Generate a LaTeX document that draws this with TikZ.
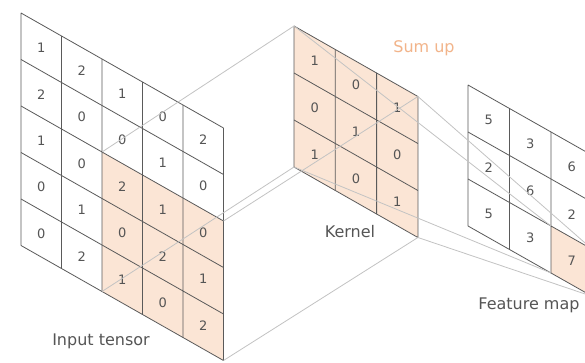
\documentclass[tikz,border=0pt]{standalone}
\usepackage{fontspec}
\setmainfont{DejaVu Sans}
\definecolor{hlfill}{RGB}{251,229,213}
\definecolor{gridgray}{RGB}{90,90,90}
\definecolor{projgray}{RGB}{195,195,195}
\definecolor{txtgray}{RGB}{85,85,85}
\definecolor{sumorange}{RGB}{242,180,138}
\begin{document}
\begin{tikzpicture}[x=1pt, y=-1pt,
  gridline/.style={draw=gridgray, line width=0.8pt},
  projline/.style={draw=projgray, line width=0.8pt},
  hlcell/.style={fill=hlfill},
  num/.style={text=txtgray, inner sep=0pt, font=\fontsize{13}{13}\selectfont},
  captxt/.style={text=txtgray, inner sep=0pt, font=\fontsize{16}{18}\selectfont}]
\clip (0,0) rectangle (585,363);
\fill[white] (0,0) rectangle (585,363);

% input tensor
\begin{scope}[shift={(21,13)}, x={(40.5pt,-23pt)}, y={(0pt,-46.5pt)}]
\coordinate (inA) at (2,2);
\coordinate (inB) at (5,2);
\coordinate (inC) at (5,5);
\coordinate (inD) at (2,5);
\fill[hlcell] (inA) -- (inB) -- (inC) -- (inD) -- cycle;
\foreach \k in {0,...,5}
  \draw[gridline] (\k,0) -- (\k,5) (0,\k) -- (5,\k);
\node[num] (in11) at (0.5,0.5) {1};
\node[num] (in12) at (1.5,0.5) {2};
\node[num] (in13) at (2.5,0.5) {1};
\node[num] (in14) at (3.5,0.5) {0};
\node[num] (in15) at (4.5,0.5) {2};
\node[num] (in21) at (0.5,1.5) {2};
\node[num] (in22) at (1.5,1.5) {0};
\node[num] (in23) at (2.5,1.5) {0};
\node[num] (in24) at (3.5,1.5) {1};
\node[num] (in25) at (4.5,1.5) {0};
\node[num] (in31) at (0.5,2.5) {1};
\node[num] (in32) at (1.5,2.5) {0};
\node[num] (in33) at (2.5,2.5) {2};
\node[num] (in34) at (3.5,2.5) {1};
\node[num] (in35) at (4.5,2.5) {0};
\node[num] (in41) at (0.5,3.5) {0};
\node[num] (in42) at (1.5,3.5) {1};
\node[num] (in43) at (2.5,3.5) {0};
\node[num] (in44) at (3.5,3.5) {2};
\node[num] (in45) at (4.5,3.5) {1};
\node[num] (in51) at (0.5,4.5) {0};
\node[num] (in52) at (1.5,4.5) {2};
\node[num] (in53) at (2.5,4.5) {1};
\node[num] (in54) at (3.5,4.5) {0};
\node[num] (in55) at (4.5,4.5) {2};
\end{scope}

% kernel
\begin{scope}[shift={(294,26)}, x={(41.3pt,-23.5pt)}, y={(0pt,-47pt)}]
\coordinate (kerA) at (0,0);
\coordinate (kerB) at (3,0);
\coordinate (kerC) at (3,3);
\coordinate (kerD) at (0,3);
\fill[hlcell] (kerA) -- (kerB) -- (kerC) -- (kerD) -- cycle;
\foreach \k in {0,...,3}
  \draw[gridline] (\k,0) -- (\k,3) (0,\k) -- (3,\k);
\node[num] (ker11) at (0.5,0.5) {1};
\node[num] (ker12) at (1.5,0.5) {0};
\node[num] (ker13) at (2.5,0.5) {1};
\node[num] (ker21) at (0.5,1.5) {0};
\node[num] (ker22) at (1.5,1.5) {1};
\node[num] (ker23) at (2.5,1.5) {0};
\node[num] (ker31) at (0.5,2.5) {1};
\node[num] (ker32) at (1.5,2.5) {0};
\node[num] (ker33) at (2.5,2.5) {1};
\end{scope}

% feature map
\begin{scope}[shift={(468,85)}, x={(41.5pt,-23.5pt)}, y={(0pt,-47pt)}]
\coordinate (fmA) at (2,2);
\coordinate (fmB) at (3,2);
\coordinate (fmC) at (3,3);
\coordinate (fmD) at (2,3);
\fill[hlcell] (fmA) -- (fmB) -- (fmC) -- (fmD) -- cycle;
\foreach \k in {0,...,3}
  \draw[gridline] (\k,0) -- (\k,3) (0,\k) -- (3,\k);
\node[num] (fm11) at (0.5,0.5) {5};
\node[num] (fm12) at (1.5,0.5) {3};
\node[num] (fm13) at (2.5,0.5) {6};
\node[num] (fm21) at (0.5,1.5) {2};
\node[num] (fm22) at (1.5,1.5) {6};
\node[num] (fm23) at (2.5,1.5) {2};
\node[num] (fm31) at (0.5,2.5) {5};
\node[num] (fm32) at (1.5,2.5) {3};
\node[num] (fm33) at (2.5,2.5) {7};
\end{scope}

% projection lines
\draw[projline] (inA) -- (kerA);
\draw[projline] (inB) -- (kerB);
\draw[projline] (inC) -- (kerC);
\draw[projline] (inD) -- (kerD);
\draw[projline] (kerA) -- (fmA);
\draw[projline] (kerB) -- (fmB);
\draw[projline] (kerC) -- (fmC);
\draw[projline] (kerD) -- (fmD);

\node[captxt] (intxt) at (101,341) {Input tensor};
\node[captxt] (kertxt) at (350,232) {Kernel};
\node[captxt] (fmtxt) at (529,305) {Feature map};
\node[captxt, text=sumorange] (sumtxt) at (424,48) {Sum up};
\end{tikzpicture}
\end{document}
